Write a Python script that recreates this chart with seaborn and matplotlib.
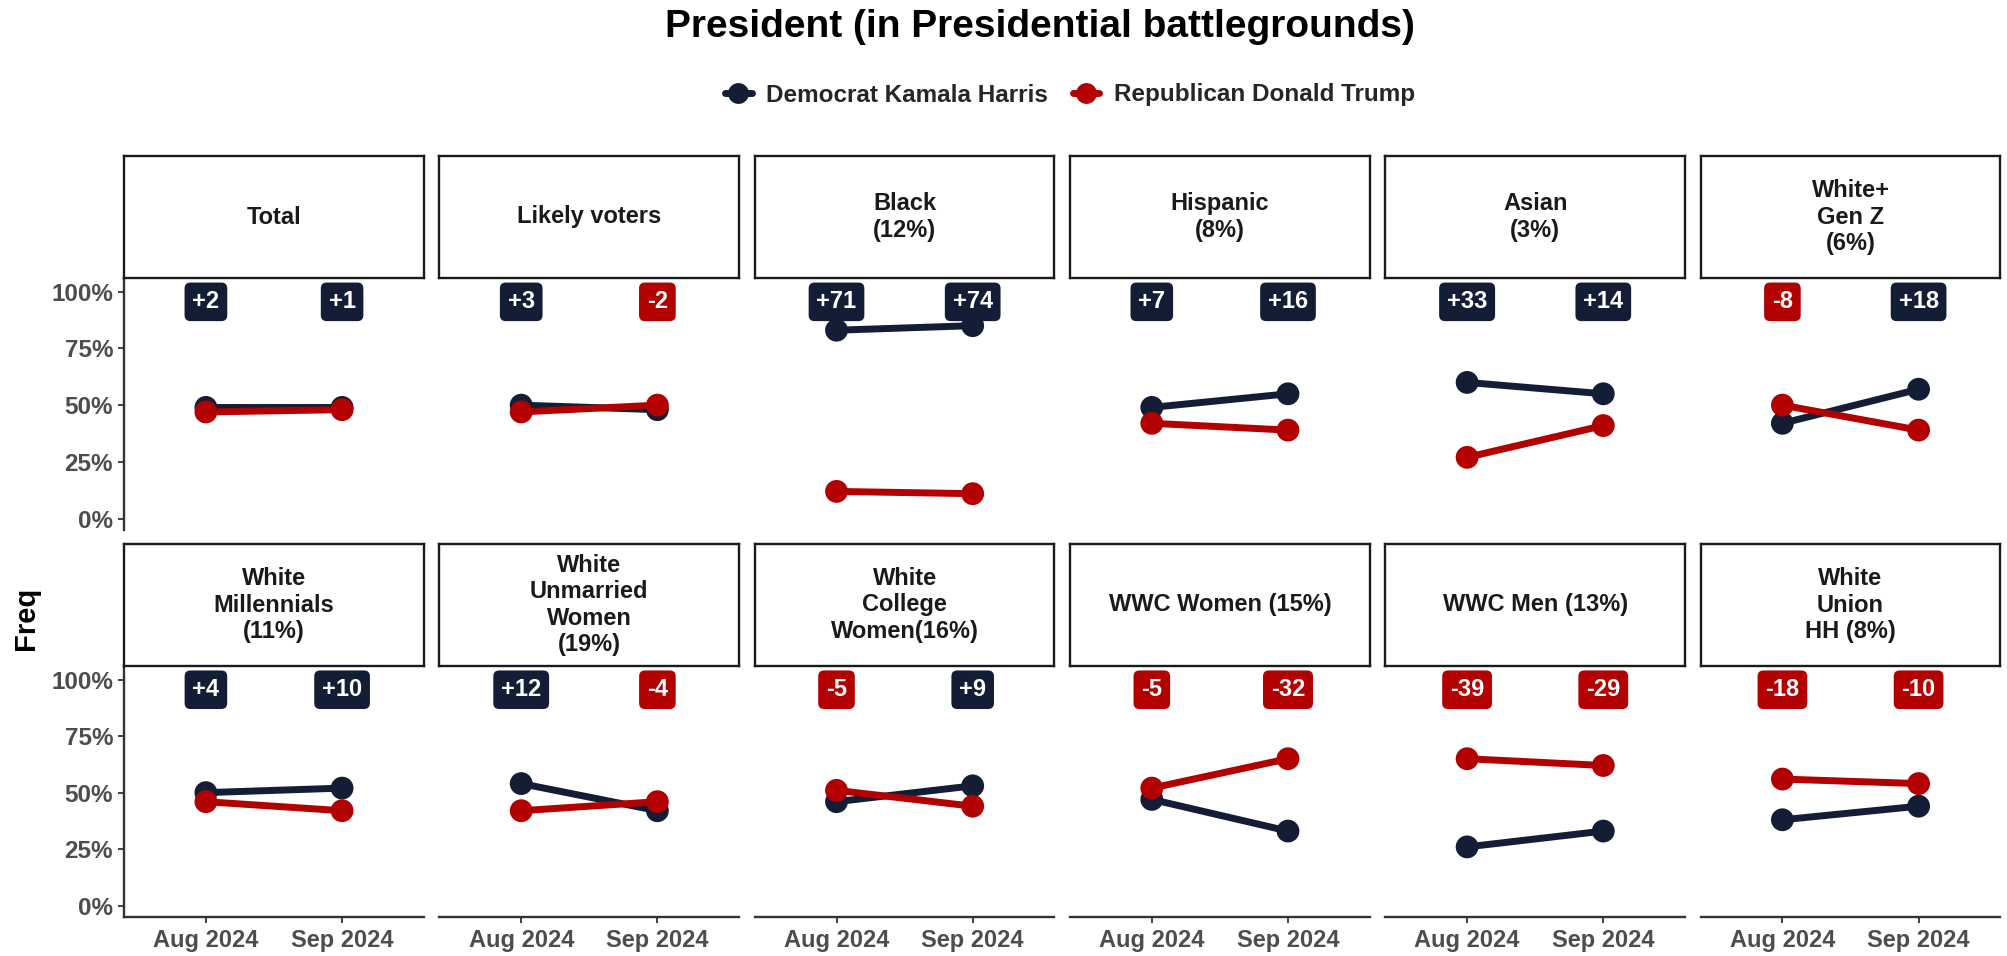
import matplotlib
matplotlib.use("Agg")
import matplotlib.pyplot as plt
from matplotlib.lines import Line2D
import seaborn as sns
import pandas as pd

# ---------------- data ----------------
months = ["Aug 2024", "Sep 2024"]
candidates = ["Democrat Kamala Harris", "Republican Donald Trump"]
groups = ["Total", "Likely voters", "Black\n(12%)", "Hispanic\n(8%)", "Asian\n(3%)",
          "White+\nGen Z\n(6%)", "White\nMillennials\n(11%)", "White\nUnmarried\nWomen\n(19%)",
          "White\nCollege\nWomen(16%)", "WWC Women (15%)", "WWC Men (13%)", "White\nUnion\nHH (8%)"]
harris = [[49, 49], [50, 48], [83, 85], [49, 55], [60, 55], [42, 57],
          [50, 52], [54, 42], [46, 53], [47, 33], [26, 33], [38, 44]]
trump = [[47, 48], [47, 50], [12, 11], [42, 39], [27, 41], [50, 39],
         [46, 42], [42, 46], [51, 44], [52, 65], [65, 62], [56, 54]]
margins = [["+2", "+1"], ["+3", "-2"], ["+71", "+74"], ["+7", "+16"], ["+33", "+14"], ["-8", "+18"],
           ["+4", "+10"], ["+12", "-4"], ["-5", "+9"], ["-5", "-32"], ["-39", "-29"], ["-18", "-10"]]
yticks = [0, 0.25, 0.5, 0.75, 1.0]
ytick_labels = ["0%", "25%", "50%", "75%", "100%"]

NAVY = "#131e36"
RED = "#b30000"
palette = {candidates[0]: NAVY, candidates[1]: RED}

rows = []
for g, h, t in zip(groups, harris, trump):
    for m, hv, tv in zip(months, h, t):
        rows.append({"group": g, "month": m, "candidate": candidates[0], "Freq": hv / 100})
        rows.append({"group": g, "month": m, "candidate": candidates[1], "Freq": tv / 100})
df = pd.DataFrame(rows)

# ---------------- style ----------------
sns.set_theme(style="white")
plt.rcParams["font.family"] = ["Liberation Sans", "DejaVu Sans"]
plt.rcParams["font.weight"] = "bold"

W, H = 2008, 956
fig = plt.figure(figsize=(W / 100, H / 100), dpi=100)

col_left = [124.2, 439.5, 754.8, 1070.1, 1385.4, 1700.7]
panel_w = 299.6
row_geom = [(156, 278, 530), (544, 666, 917)]  # strip top, panel top, panel bottom

def fx(x):
    return x / W

def fy(y):
    return 1 - y / H

for i, g in enumerate(groups):
    r, c = divmod(i, 6)
    st, pt, pb = row_geom[r]
    x0 = col_left[c]
    ax = fig.add_axes([fx(x0), fy(pb), panel_w / W, (pb - pt) / H])
    sub = df[df["group"] == g]
    sns.lineplot(data=sub, x="month", y="Freq", hue="candidate", palette=palette,
                 hue_order=candidates, linewidth=5, legend=False, ax=ax, sort=False)
    sns.scatterplot(data=sub, x="month", y="Freq", hue="candidate", palette=palette,
                    hue_order=candidates, s=270, linewidth=0, legend=False, ax=ax, zorder=3)
    for j, lab in enumerate(margins[i]):
        col = RED if lab.startswith("-") else NAVY
        ax.text(j, 0.955, lab, ha="center", va="center", color="white",
                fontsize=17, fontweight="bold", zorder=5,
                bbox=dict(boxstyle="round,pad=0.33,rounding_size=0.25", fc=col, ec="none"))
    ax.set_xlim(-0.6, 1.6)
    ax.set_ylim(-0.05, 1.06)
    ax.set_xlabel("")
    ax.set_ylabel("")
    ax.set_facecolor("white")
    for s in ["top", "right"]:
        ax.spines[s].set_visible(False)
    ax.spines["left"].set_visible(c == 0)
    ax.spines["bottom"].set_visible(r == 1)
    for s in ["left", "bottom"]:
        ax.spines[s].set_color("#333333")
        ax.spines[s].set_linewidth(1.7)
    ax.set_yticks(yticks)
    if c == 0:
        ax.set_yticklabels(ytick_labels)
        ax.tick_params(axis="y", left=True, length=4, width=1.3, color="#333333",
                       labelsize=17.5, labelcolor="#4d4d4d", pad=4)
    else:
        ax.tick_params(axis="y", left=False, labelleft=False)
    if r == 1:
        ax.tick_params(axis="x", bottom=True, length=4, width=1.3, color="#333333",
                       labelsize=17, labelcolor="#4d4d4d", pad=5)
    else:
        ax.tick_params(axis="x", bottom=False, labelbottom=False)
    for lab in ax.get_xticklabels() + ax.get_yticklabels():
        lab.set_fontweight("bold")

    # strip
    sax = fig.add_axes([fx(x0), fy(pt), panel_w / W, (pt - st) / H])
    sax.set_xticks([])
    sax.set_yticks([])
    sax.set_facecolor("white")
    for s in sax.spines.values():
        s.set_visible(True)
        s.set_color("#1a1a1a")
        s.set_linewidth(1.7)
    sax.text(0.5, 0.5, g, ha="center", va="center", fontsize=17, fontweight="bold",
             color="#1a1a1a", linespacing=1.2, transform=sax.transAxes)

fig.text(fx(1040), fy(27), "President (in Presidential battlegrounds)", ha="center", va="center",
         fontsize=28, fontweight="bold", color="black")
fig.text(fx(26), fy(618), "Freq", ha="center", va="center", rotation=90,
         fontsize=21, fontweight="bold", color="black")

handles = [Line2D([0], [0], color=palette[cnd], lw=5, marker="o", markersize=15,
                  markeredgewidth=0) for cnd in candidates]
fig.legend(handles, candidates, loc="center", bbox_to_anchor=(fx(1070), fy(95)), ncol=2,
           frameon=False, handlelength=1.1, handletextpad=0.6,
           columnspacing=1.0, prop={"weight": "bold", "size": 17.5})

fig.savefig("out.png", dpi=100, facecolor="white")
